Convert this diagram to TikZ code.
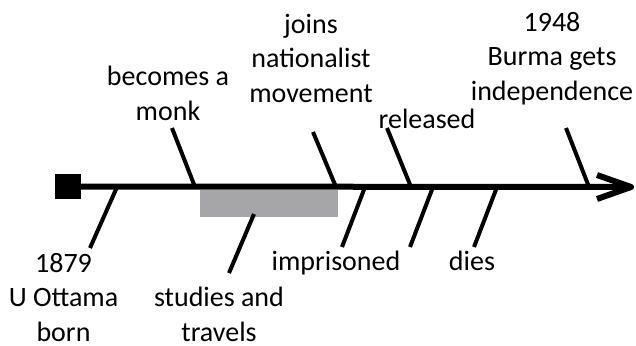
\documentclass[tikz,border=0pt]{standalone}
\usepackage{fontspec}
\setmainfont{Carlito}
\definecolor{spangray}{HTML}{A6A6A8}
\begin{document}
\begin{tikzpicture}[x=1pt,y=-1pt,
  lbl/.style={font=\fontsize{28}{34.2}\selectfont, align=center, inner sep=0pt, anchor=base},
  tickline/.style={line width=4pt},
  axis/.style={line width=6pt}]
\useasboundingbox (0,0) rectangle (636,345);
% span bar
\node[fill=spangray, minimum width=138pt, minimum height=27pt, inner sep=0pt, anchor=north west] (span) at (200,190) {};
% start square and axis
\node[fill=black, minimum width=26pt, minimum height=25pt, inner sep=0pt] (start) at (68,186.5) {};
\coordinate (tip) at (631,187);
\coordinate (hl) at (597,175);
\coordinate (hr) at (597,199);
\draw[axis] (start.east) -- (tip);
\draw[axis, line join=round] (hl) -- (tip) -- (hr);
% labels (anchor = baseline of last line)
\node[lbl] (born) at (63.5,341) {1879\\U Ottama\\born};
\node[lbl] (monk) at (168,120) {becomes a\\monk};
\node[lbl] (study) at (219,341) {studies and\\travels};
\node[lbl] (joins) at (311,102) {joins\\nationalist\\movement};
\node[lbl] (prison) at (336,270) {imprisoned};
\node[lbl] (released) at (427,128) {released};
\node[lbl] (dies) at (472,270) {dies};
\node[lbl] (indep) at (552,100) {1948\\Burma gets\\independence};
% tick coordinates
\coordinate (a1) at (117,187); \coordinate (b1) at (90,248);
\coordinate (a2) at (195,187); \coordinate (b2) at (172,128);
\coordinate (a3) at (254,214); \coordinate (b3) at (229,273);
\coordinate (a4) at (336,187); \coordinate (b4) at (313,132);
\coordinate (a5) at (411,187); \coordinate (b5) at (387,128);
\coordinate (a6) at (365,187); \coordinate (b6) at (342,247);
\coordinate (a7) at (433,187); \coordinate (b7) at (410,247);
\coordinate (a8) at (497,187); \coordinate (b8) at (474,247);
\coordinate (a9) at (589,187); \coordinate (b9) at (566,128);
\foreach \i in {1,...,9} {\draw[tickline] (a\i) -- (b\i);}
\end{tikzpicture}
\end{document}
